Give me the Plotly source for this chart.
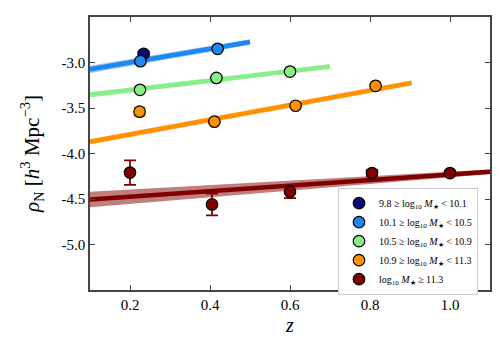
import plotly.graph_objects as go

# ---- data ----
labels = [
    "9.8 ≥ log<sub>10</sub> <i>M</i><sub>★</sub> &lt; 10.1",
    "10.1 ≥ log<sub>10</sub> <i>M</i><sub>★</sub> &lt; 10.5",
    "10.5 ≥ log<sub>10</sub> <i>M</i><sub>★</sub> &lt; 10.9",
    "10.9 ≥ log<sub>10</sub> <i>M</i><sub>★</sub> &lt; 11.3",
    "log<sub>10</sub> <i>M</i><sub>★</sub> ≥ 11.3",
]
colors = ["#0a0a7a", "#1e88f0", "#88ee88", "#ff9000", "#800000"]
band_colors = ["rgba(10,10,122,0.45)", "rgba(30,136,240,0.5)", "rgba(136,238,136,0.55)",
               "rgba(255,144,0,0.5)", "rgba(128,0,0,0.5)"]

z_pts = [
    [0.234],
    [0.226, 0.419],
    [0.225, 0.416, 0.600],
    [0.224, 0.411, 0.614, 0.814],
    [0.200, 0.405, 0.600, 0.805, 1.000],
]
rho_pts = [
    [-2.905],
    [-2.986, -2.850],
    [-3.300, -3.170, -3.100],
    [-3.540, -3.650, -3.475, -3.256],
    [-4.210, -4.560, -4.420, -4.215, -4.215],
]
rho_err = [
    [0.025],
    [0.01, 0.01],
    [0.012, 0.01, 0.01],
    [0.045, 0.015, 0.015, 0.01],
    [0.135, 0.12, 0.07, 0.035, 0.025],
]

# fitted relations (start/end of each fit line), band half-widths at ends
fit_z0 = [None, 0.10, 0.10, 0.10, 0.10]
fit_z1 = [None, 0.50, 0.70, 0.904, 1.10]
fit_r0 = [None, -3.075, -3.355, -3.870, -4.505]
fit_r1 = [None, -2.775, -3.045, -3.224, -4.200]
band_w0 = [None, 0.04, 0.03, 0.03, 0.085]
band_w1 = [None, 0.03, 0.025, 0.03, 0.025]

x_ticks = [0.2, 0.4, 0.6, 0.8, 1.0]
x_ticktext = ["0.2", "0.4", "0.6", "0.8", "1.0"]
y_ticks = [-3.0, -3.5, -4.0, -4.5, -5.0]
y_ticktext = ["-3.0", "-3.5", "-4.0", "-4.5", "-5.0"]

fig = go.Figure()

# fit bands and lines
for i in range(5):
    if fit_z0[i] is None:
        continue
    zs = [fit_z0[i], fit_z1[i], fit_z1[i], fit_z0[i]]
    rs = [fit_r0[i] + band_w0[i], fit_r1[i] + band_w1[i],
          fit_r1[i] - band_w1[i], fit_r0[i] - band_w0[i]]
    fig.add_trace(go.Scatter(x=zs, y=rs, fill="toself", fillcolor=band_colors[i],
                             line=dict(width=0), mode="lines", hoverinfo="skip",
                             showlegend=False))
    fig.add_trace(go.Scatter(x=[fit_z0[i], fit_z1[i]], y=[fit_r0[i], fit_r1[i]],
                             mode="lines", line=dict(color=colors[i], width=4.5),
                             showlegend=False, hoverinfo="skip"))

# data points
for i in range(5):
    fig.add_trace(go.Scatter(
        x=z_pts[i], y=rho_pts[i], mode="markers", name=labels[i],
        marker=dict(color=colors[i], size=11.5, line=dict(color="black", width=1.2)),
        error_y=dict(type="data", array=rho_err[i], color=colors[i],
                     thickness=1.8, width=6),
    ))

font_fam = "Liberation Serif, Times New Roman, serif"
fig.update_layout(
    width=500, height=350,
    margin=dict(l=90, r=10, t=17, b=60, autoexpand=False),
    plot_bgcolor="white", paper_bgcolor="white",
    font=dict(family=font_fam, color="black", size=15),
    showlegend=True,
    legend=dict(x=0.62, y=0.375, xanchor="left", yanchor="top",
                bgcolor="white", bordercolor="#cccccc", borderwidth=1,
                font=dict(size=10, family=font_fam), tracegroupgap=0,
                itemwidth=30),
)
axis_common = dict(showline=True, linecolor="#444444", linewidth=1.5, mirror="ticks",
                   ticks="inside", ticklen=5, tickwidth=1.2, tickcolor="#444444",
                   showgrid=False, zeroline=False)
fig.update_xaxes(range=[0.1, 1.1], tickvals=x_ticks, ticktext=x_ticktext,
                 title=dict(text="<i>z</i>", font=dict(size=20), standoff=6),
                 automargin=False, **axis_common)
fig.update_yaxes(range=[-5.5, -2.5], tickvals=y_ticks, ticktext=y_ticktext,
                 title=dict(text="<i>ρ</i><sub>N</sub> [<i>h</i><sup>3</sup> Mpc<sup>−3</sup>]",
                            font=dict(size=21), standoff=16), automargin=True,
                 **axis_common)

fig.write_html("out.html", config={"displayModeBar": False},
               post_script="document.body.style.margin='0';")
